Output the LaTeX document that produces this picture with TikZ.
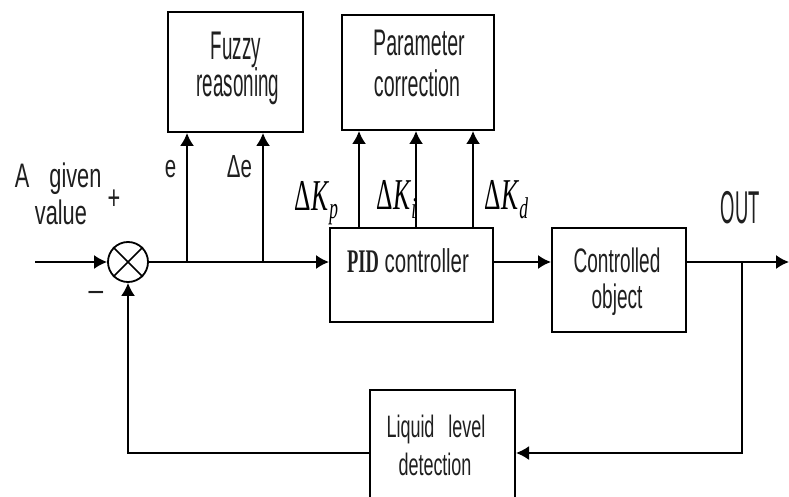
\documentclass[tikz,border=0pt]{standalone}
\usepackage{fontspec}
\setmainfont[FakeStretch=0.52]{Liberation Sans}
\newfontfamily\fzf[FakeStretch=0.47]{Liberation Sans}
\newfontfamily\pcf[FakeStretch=0.53]{Liberation Sans}
\newfontfamily\cof[FakeStretch=0.56]{Liberation Sans}
\newfontfamily\lqf[FakeStretch=0.58]{Liberation Sans}
\newfontfamily\labf[FakeStretch=0.64]{Liberation Sans}
\newfontfamily\minf{Liberation Sans}
\newfontfamily\outf[FakeStretch=0.4]{Liberation Sans}
\newfontfamily\pidf[FakeStretch=0.62]{Liberation Sans}
\newfontfamily\pidb[FakeStretch=0.56]{Liberation Serif}
\newfontfamily\dkf[FakeStretch=0.58]{Liberation Serif}
\newcommand\dK[1]{\dkf\fontsize{44}{44}\selectfont Δ\textit{K}\raisebox{-9pt}{\fontsize{30}{30}\selectfont\textit{#1}}}
\usetikzlibrary{arrows.meta}
\begin{document}
\begin{tikzpicture}[x=1pt,y=-1pt,line width=1.8pt,
  lbl/.style={inner sep=0pt, anchor=base, text=black!88},
  blk/.style={draw, line width=2pt, inner sep=0pt},
  arr/.style={-{Latex[length=13pt,width=14pt]}}]
\useasboundingbox (0,0) rectangle (789,497);
% blocks
\node[blk, minimum width=135pt, minimum height=120pt] (fz) at (235,72) {};
\node[lbl, font=\fzf\fontsize{40}{40}\selectfont] (fz1) at (236,60) {Fuzzy};
\node[lbl, font=\fzf\fontsize{40}{40}\selectfont] (fz2) at (238,97) {reasoning};
\node[blk, minimum width=152pt, minimum height=115pt] (pc) at (418,72.5) {};
\node[lbl, font=\pcf\fontsize{37}{37}\selectfont] (pc1) at (419,56) {Parameter};
\node[lbl, font=\pcf\fontsize{37}{37}\selectfont] (pc2) at (417,97) {correction};
\node[blk, minimum width=163pt, minimum height=94pt] (pid) at (411.5,275) {};
\node[lbl, font=\pidf\fontsize{33}{33}\selectfont] (pidt) at (408,272) {{\pidb\bfseries PID} controller};
\node[blk, minimum width=134pt, minimum height=104pt] (co) at (619,280) {};
\node[lbl, font=\cof\fontsize{34}{34}\selectfont] (co1) at (617,272) {Controlled};
\node[lbl, font=\cof\fontsize{34}{34}\selectfont] (co2) at (617,308) {object};
\node[blk, minimum width=145pt, minimum height=126pt] (ld) at (442.5,453) {};
\node[lbl, font=\lqf\fontsize{31}{31}\selectfont] (ld1) at (436,437) {Liquid\hspace{14pt}level};
\node[lbl, font=\lqf\fontsize{31}{31}\selectfont] (ld2) at (435,475) {detection};
% summing junction
\node[draw, circle, minimum size=40pt, inner sep=0pt, line width=1.8pt] (sum) at (128,262) {};
\draw[line width=1.6pt] (sum.north west) -- (sum.south east) (sum.north east) -- (sum.south west);
% coordinates
\coordinate (in) at (35,262);
\coordinate (b1) at (187,262);
\coordinate (b2) at (263,262);
\coordinate (p1) at (359,0);
\coordinate (p2) at (416,0);
\coordinate (p3) at (473,0);
\coordinate (o) at (742,262);
\coordinate (out) at (789,262);
% connectors
\draw[arr] (in) -- (sum.west);
\draw[arr] (sum.east) -- (pid.west |- sum.east);
\draw[arr] (b1) -- (b1 |- fz.south);
\draw[arr] (b2) -- (b2 |- fz.south);
\draw[arr] (p1 |- pid.north) -- (p1 |- pc.south);
\draw[arr] (p2 |- pid.north) -- (p2 |- pc.south);
\draw[arr] (p3 |- pid.north) -- (p3 |- pc.south);
\draw[arr] (pid.east |- sum.east) -- (co.west |- sum.east);
\draw[arr] (co.east |- sum.east) -- (out);
\draw[arr] (o) |- (ld.east);
\draw[arr] (ld.west) -| (sum.south);
% labels
\node[lbl, anchor=base west, font=\labf\fontsize{34}{34}\selectfont] (lA) at (14,188) {A\hspace{20pt}given};
\node[lbl, anchor=base west, font=\labf\fontsize{34}{34}\selectfont] (lv) at (34,224) {value};
\node[lbl, anchor=center, font=\labf\fontsize{34}{34}\selectfont] (plus) at (114,200) {+};
\node[lbl, anchor=center, font=\minf\fontsize{30}{30}\selectfont] (minus) at (96,297) {−};
\node[lbl, anchor=base west, font=\labf\fontsize{32}{32}\selectfont] (le) at (164,178) {e};
\node[lbl, anchor=base west, font=\labf\fontsize{32}{32}\selectfont] (lde) at (226,178) {Δe};
\node[lbl, anchor=base west, text=black] (kp) at (294,210) {\dK{p}};
\node[lbl, anchor=base west, text=black] (ki) at (376,209) {\dK{i}};
\node[lbl, anchor=base west, text=black] (kd) at (484,209) {\dK{d}};
\node[lbl, anchor=base west, font=\outf\fontsize{46}{46}\selectfont] (lout) at (720,223) {OUT};
\end{tikzpicture}
\end{document}
